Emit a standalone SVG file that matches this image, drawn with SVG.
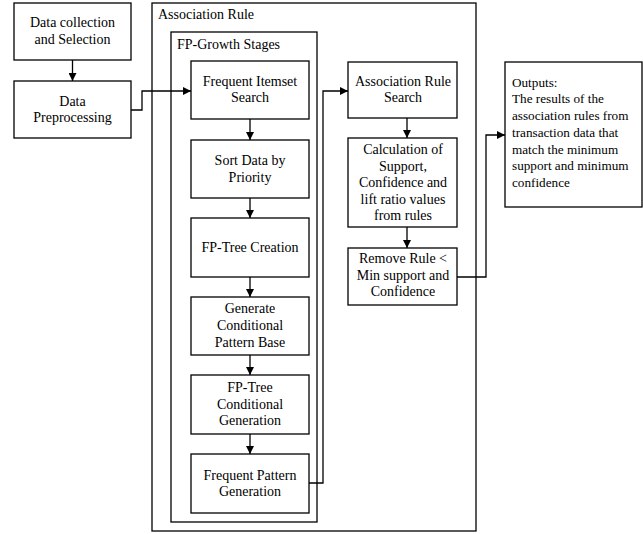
<svg xmlns="http://www.w3.org/2000/svg" width="643" height="534" viewBox="0 0 643 534">
<defs>
<marker id="ah" viewBox="0 0 10 10" refX="10" refY="5" markerWidth="8" markerHeight="8" markerUnits="userSpaceOnUse" orient="auto"><path d="M0,0 L10,5 L0,10 z" fill="#000"/></marker>
</defs>
<style>
rect{fill:#fff;stroke:#000;stroke-width:1.3}
text{font-family:"Liberation Serif","DejaVu Serif","Noto Serif",serif;font-size:14px;fill:#000}
.c{text-anchor:middle}
.o{font-size:13.2px}
.con path{fill:none;stroke:#000;stroke-width:1.3;marker-end:url(#ah)}
</style>
<rect width="643" height="534" style="stroke:none"/>
<g id="association-rule"><rect x="152" y="3" width="324" height="528"/><text x="158" y="19">Association Rule</text></g>
<g id="fp-growth"><rect x="171" y="32" width="146" height="490"/><text x="177" y="49">FP-Growth Stages</text></g>
<g id="data-collection"><rect x="14" y="3" width="117" height="57"/><text class="c" x="72.5" y="27">Data collection</text><text class="c" x="72.5" y="44">and Selection</text></g>
<g id="data-preprocessing"><rect x="14" y="81" width="117" height="57"/><text class="c" x="72.5" y="106">Data</text><text class="c" x="72.5" y="122">Preprocessing</text></g>
<g id="frequent-itemset"><rect x="191" y="61" width="118" height="58"/><text class="c" x="250" y="86">Frequent Itemset</text><text class="c" x="250" y="102">Search</text></g>
<g id="sort-data"><rect x="191" y="140" width="118" height="58"/><text class="c" x="250" y="165">Sort Data by</text><text class="c" x="250" y="182">Priority</text></g>
<g id="fp-tree-creation"><rect x="191" y="218" width="118" height="59"/><text class="c" x="250" y="252">FP-Tree Creation</text></g>
<g id="conditional-pattern-base"><rect x="191" y="297" width="118" height="58"/><text class="c" x="250" y="313">Generate</text><text class="c" x="250" y="330">Conditional</text><text class="c" x="250" y="347">Pattern Base</text></g>
<g id="fp-tree-conditional"><rect x="191" y="375" width="118" height="59"/><text class="c" x="250" y="392">FP-Tree</text><text class="c" x="250" y="409">Conditional</text><text class="c" x="250" y="425">Generation</text></g>
<g id="frequent-pattern"><rect x="191" y="454" width="118" height="59"/><text class="c" x="250" y="480">Frequent Pattern</text><text class="c" x="250" y="496">Generation</text></g>
<g id="association-rule-search"><rect x="348" y="62" width="109" height="56"/><text class="c" x="403" y="86">Association Rule</text><text class="c" x="403" y="102">Search</text></g>
<g id="calculation"><rect x="348" y="138" width="109" height="89"/><text class="c" x="403" y="154">Calculation of</text><text class="c" x="403" y="171">Support,</text><text class="c" x="403" y="187">Confidence and</text><text class="c" x="403" y="204">lift ratio values</text><text class="c" x="403" y="220">from rules</text></g>
<g id="remove-rule"><rect x="348" y="248" width="109" height="57"/><text class="c" x="403" y="263">Remove Rule &lt;</text><text class="c" x="403" y="280">Min support and</text><text class="c" x="403" y="296">Confidence</text></g>
<g id="outputs"><rect x="505" y="62" width="137" height="145"/><text class="o" x="512" y="87">Outputs:</text><text class="o" x="512" y="103">The results of the</text><text class="o" x="512" y="120">association rules from</text><text class="o" x="512" y="137">transaction data that</text><text class="o" x="512" y="154">match the minimum</text><text class="o" x="512" y="170">support and minimum</text><text class="o" x="512" y="187">confidence</text></g>
<g id="connectors" class="con">
<path d="M72.5,60 V81"/>
<path d="M131,110 H142 V91 H191"/>
<path d="M250,119 V140"/>
<path d="M250,198 V218"/>
<path d="M250,277 V297"/>
<path d="M250,355 V375"/>
<path d="M250,434 V454"/>
<path d="M309,483 H323 V91 H348"/>
<path d="M407,118 V138"/>
<path d="M407,227 V248"/>
<path d="M457,277 H486 V135 H505"/>
</g>
</svg>
